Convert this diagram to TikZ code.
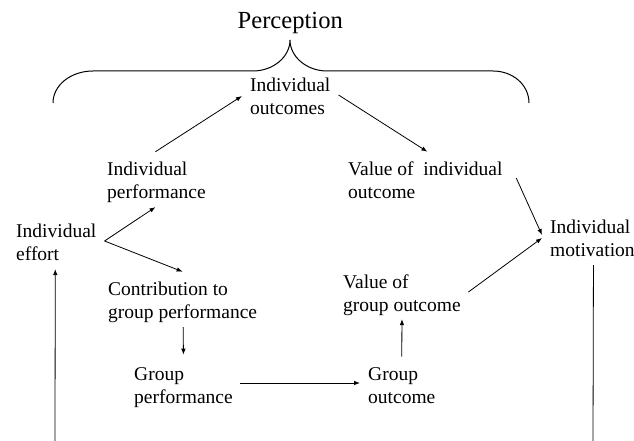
\documentclass[tikz,border=0pt]{standalone}
\usepackage{fontspec}
\setmainfont{Liberation Serif}
\usetikzlibrary{arrows.meta}
\newcommand{\mline}[1]{\begin{tabular}[t]{@{}l@{}}#1\end{tabular}}
\begin{document}
\begin{tikzpicture}[x=1pt,y=-1pt,
  lbl/.style={inner sep=0pt, anchor=base west, font=\fontsize{19.5}{23}\selectfont},
  conn/.style={line width=0.8pt, -{Latex[length=6pt,width=4.5pt]}},
  plain/.style={line width=0.8pt},
  bracestyle/.style={line width=1pt}]
\useasboundingbox (0,0) rectangle (634,441);
\node[lbl, font=\fontsize{24.6}{28}\selectfont] (perc) at (237.5,29) {Perception};
\draw[bracestyle] (53,103) .. controls (53,85) and (71,71) .. (93,71) -- (253,71)
  .. controls (273,71) and (290,57) .. (290,40)
  .. controls (290,57) and (307,71) .. (327,71) -- (493,71)
  .. controls (513,71) and (529,85) .. (529,103);
\node[lbl] (io) at (250,92) {\mline{Individual\\outcomes}};
\node[lbl] (ip) at (107,175) {\mline{Individual\\performance}};
\node[lbl] (ie) at (16,237) {\mline{Individual\\effort}};
\node[lbl] (cg) at (108,295) {\mline{Contribution to\\group performance}};
\node[lbl] (gp) at (134,380) {\mline{Group\\performance}};
\node[lbl] (go) at (368,380) {\mline{Group\\outcome}};
\node[lbl] (vg) at (343,288) {\mline{Value of\\group outcome}};
\node[lbl] (vi) at (348,175) {\mline{Value of\ \ individual\\outcome}};
\node[lbl] (im) at (550,233) {\mline{Individual\\motivation}};
\coordinate (bl) at (55,441);
\coordinate (br) at (593,441);
\draw[conn] ([shift={(8,4)}]ie.base east) -- ([shift={(-1,2)}]ip.south);
\draw[conn] ([shift={(8,4)}]ie.base east) -- ([shift={(0,-7)}]cg.north);
\draw[conn] ([shift={(-1,-7)}]ip.north) -- ([shift={(-8,4)}]io.base west);
\draw[conn] ([shift={(8,3)}]io.base east) -- ([shift={(2,-7)}]vi.north);
\draw[conn] ([shift={(13.5,3)}]vi.base east) -- ([shift={(-8,2)}]im.base west);
\draw[conn] ([shift={(7.5,4)}]vg.base east) -- ([shift={(-8,5)}]im.base west);
\draw[conn] ([shift={(0.5,2)}]cg.south) -- ([shift={(0,-9)}]gp.north);
\draw[conn] ([shift={(7.5,3)}]gp.base east) -- ([shift={(-8,3)}]go.base west);
\draw[conn] ([shift={(0,-7)}]go.north) -- ([shift={(0,1)}]vg.south);
\draw[conn] (bl) -- ([shift={(-1,2)}]ie.south);
\draw[plain] ([shift={(1,2)}]im.south) -- (br);
\end{tikzpicture}
\end{document}
